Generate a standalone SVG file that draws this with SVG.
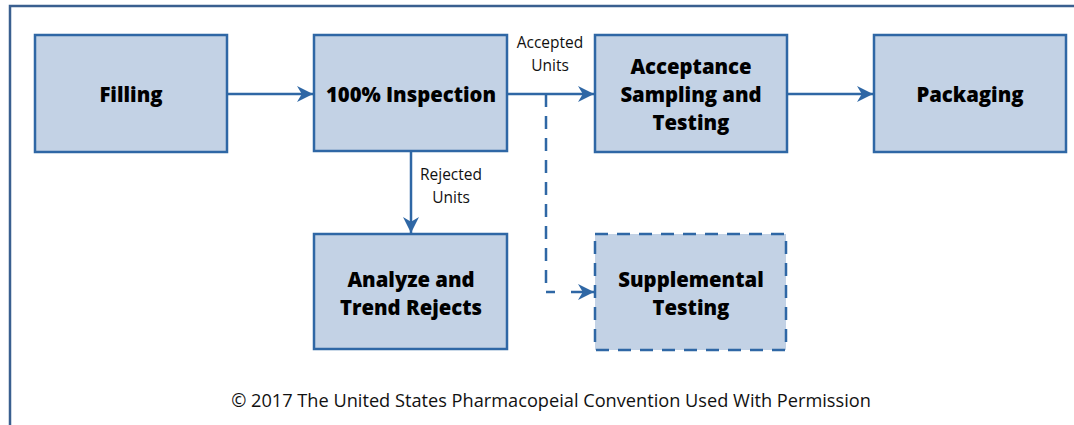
<svg xmlns="http://www.w3.org/2000/svg" width="1074" height="425" viewBox="0 0 1074 425">
<defs>
<style>
.box{fill:#c3d2e5;stroke:#2f67a5;stroke-width:2.5}
.dash{stroke-dasharray:13 9}
.t{font-family:"Open Sans","Liberation Sans",sans-serif;font-weight:800;font-size:20.3px;fill:#000;text-anchor:middle}
.l{font-family:"Open Sans","Liberation Sans",sans-serif;font-size:15.5px;fill:#111;text-anchor:middle}
.c{stroke:#2f67a5;stroke-width:2.5;fill:none}
</style>
<marker id="ah2" viewBox="0 0 10 10" refX="10" refY="5" markerWidth="22" markerHeight="16" markerUnits="userSpaceOnUse" orient="auto"><path d="M0,0 L10,5 L0,10 L3,5 Z" fill="#2f67a5"/></marker>
</defs>
<rect x="10" y="6" width="1080" height="430" fill="#fff" stroke="#3a5f8f" stroke-width="2.5"/>
<g id="connectors">
<line class="c" x1="227" y1="94" x2="313" y2="94" marker-end="url(#ah2)"/>
<line class="c" x1="507" y1="94" x2="594" y2="94" marker-end="url(#ah2)"/>
<line class="c" x1="787" y1="94" x2="873" y2="94" marker-end="url(#ah2)"/>
<line class="c" x1="411" y1="151" x2="411" y2="233" marker-end="url(#ah2)"/>
<path class="c" d="M546,94 V292 H555" stroke-dasharray="13 9"/>
<line class="c" x1="571" y1="292" x2="594" y2="292" marker-end="url(#ah2)"/>
<text class="l" x="550" y="48">Accepted</text>
<text class="l" x="550" y="71">Units</text>
<text class="l" x="451" y="180">Rejected</text>
<text class="l" x="451" y="203">Units</text>
</g>
<g id="filling"><rect class="box" x="35" y="35" width="192" height="117"/><text class="t" x="131" y="102">Filling</text></g>
<g id="inspection"><rect class="box" x="314" y="35" width="193" height="116"/><text class="t" x="411" y="102">100% Inspection</text></g>
<g id="acceptance"><rect class="box" x="595" y="35" width="192" height="117"/><text class="t" x="691" y="74">Acceptance</text><text class="t" x="691" y="102">Sampling and</text><text class="t" x="691" y="130">Testing</text></g>
<g id="packaging"><rect class="box" x="874" y="35" width="192" height="117"/><text class="t" x="970" y="102">Packaging</text></g>
<g id="analyze"><rect class="box" x="314" y="234" width="193" height="115"/><text class="t" x="411" y="287">Analyze and</text><text class="t" x="411" y="315">Trend Rejects</text></g>
<g id="supplemental"><rect class="box dash" x="595" y="234" width="191" height="116"/><text class="t" x="691" y="287">Supplemental</text><text class="t" x="691" y="315">Testing</text></g>
<text x="551" y="407" font-family="Open Sans, Liberation Sans, sans-serif" font-size="18.2" fill="#111" text-anchor="middle">© 2017 The United States Pharmacopeial Convention Used With Permission</text>
</svg>
